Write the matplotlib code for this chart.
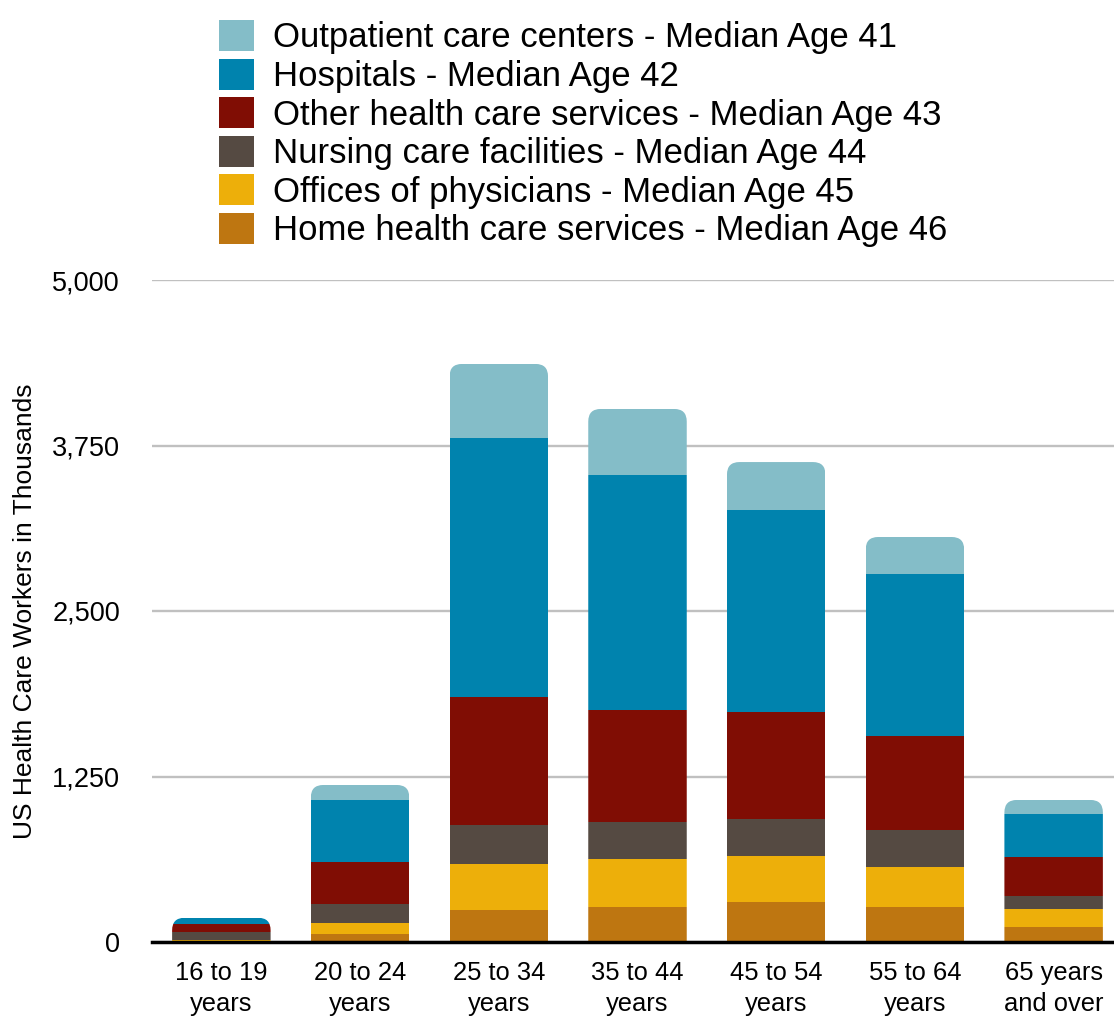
import matplotlib
matplotlib.use('Agg')
import matplotlib.pyplot as plt
from matplotlib.patches import FancyBboxPatch
import numpy as np

categories=['16 to 19\nyears','20 to 24\nyears','25 to 34\nyears','35 to 44\nyears',
            '45 to 54\nyears','55 to 64\nyears','65 years\nand over']

# stacked from bottom to top, thousands of workers
home=[5,60,242,264,302,264,113]
offices=[8,84,347,363,348,302,136]
nursing=[65,143,295,279,279,280,98]
other=[60,317,966,846,808,710,295]
hospitals=[40,469,1957,1775,1526,1223,325]
outpatient=[5,113,559,499,362,280,106]

series=[
    ('Home health care services - Median Age 46',home,'#BE7611'),
    ('Offices of physicians - Median Age 45',offices,'#EDAF0A'),
    ('Nursing care facilities - Median Age 44',nursing,'#554A42'),
    ('Other health care services - Median Age 43',other,'#800D04'),
    ('Hospitals - Median Age 42',hospitals,'#0083AE'),
    ('Outpatient care centers - Median Age 41',outpatient,'#84BDC8'),
]

plt.rcParams['font.family']=['Liberation Sans','DejaVu Sans']

fig=plt.figure(figsize=(11.14,10.16),dpi=100)
ax=fig.add_axes([152/1114,74/1016,971/1114,662/1016])

x=np.arange(len(categories))
width=0.71
ax.set_xlim(-0.5,len(categories)-0.5)
ax.set_ylim(0,5000)

totals=np.sum([s[1] for s in series],axis=0)
# rounded clip shape for each stack
aspect=(971/7)/(662/5000)
clips=[]
for i in range(len(categories)):
    cp=FancyBboxPatch((x[i]-width/2,-1000),width,totals[i]+1000,
                      boxstyle='round,pad=0,rounding_size=0.09',
                      mutation_aspect=aspect,transform=ax.transData)
    clips.append(cp)

bottom=np.zeros(len(categories))
handles=[]
for label,vals,color in series:
    bars=ax.bar(x,vals,width,bottom=bottom,color=color,label=label,zorder=3,linewidth=0)
    for i,b in enumerate(bars):
        b.set_clip_path(clips[i])
    bottom=bottom+np.array(vals)
    handles.append(bars)

ax.set_yticks([0,1250,2500,3750,5000])
ax.set_yticklabels(['0','1,250','2,500','3,750','5,000'],fontsize=19.5)
ax.yaxis.grid(True,color='#c0c0c0',linewidth=1.7,zorder=0)
ax.set_axisbelow(True)
ax.tick_params(axis='y',length=0,pad=23)
ax.tick_params(axis='x',length=0,pad=14)
ax.set_xticks(x)
ax.set_xticklabels(categories,fontsize=18.4,linespacing=1.35)
for sp in ['top','right','left']:
    ax.spines[sp].set_visible(False)
ax.spines['bottom'].set_linewidth(2.5)
ax.spines['bottom'].set_zorder(5)
ax.set_ylabel('US Health Care Workers in Thousands',fontsize=19,labelpad=11)

fig.legend(handles[::-1],[s[0] for s in series][::-1],loc='upper left',
           bbox_to_anchor=(219/1114,1-20/1016),frameon=False,fontsize=25,
           handlelength=1.0,handleheight=1.0,handletextpad=0.55,labelspacing=0.12,
           borderpad=0,borderaxespad=0)

fig.savefig('out.png',dpi=100)
